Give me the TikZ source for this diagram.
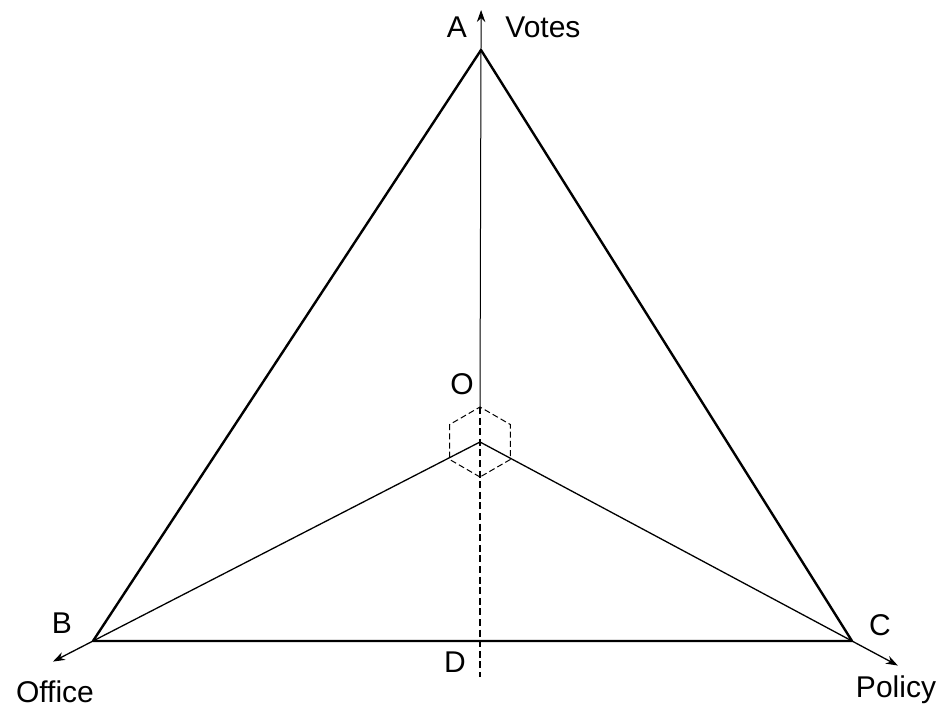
\documentclass[tikz,border=0pt]{standalone}
\usepackage{fontspec}
\setmainfont{Liberation Sans}
\usetikzlibrary{arrows.meta,calc}
\tikzset{
  >={Stealth[length=6pt,width=4.2pt]},
  side/.style={draw=black, line width=1.2pt},
  spoke/.style={draw=black, line width=.65pt},
  axisline/.style={draw=black, line width=.5pt},
  hexline/.style={draw=black, line width=.5pt, dash pattern=on 3pt off 1.6pt},
  lbl/.style={font=\fontsize{15}{17}\selectfont, inner sep=0pt}
}
\begin{document}
\begin{tikzpicture}[x=0.5pt,y=-0.5pt]
\useasboundingbox (0,0) rectangle (943,707);

% Corners of the triangle, its centre and the foot of the axis.
\coordinate (A) at (481,50);
\coordinate (B) at (93,641);
\coordinate (C) at (852,641);
\coordinate (O) at (480,442);
\coordinate (D) at (480,641);
\coordinate (Dend) at (480,677);
\coordinate (H) at ($(O)+(0,-35)$);

% Triangle.
\draw[side, line join=round] (A) -- (B) -- (C) -- cycle;

% Spokes from the centre, running out past B and C.
\draw[spoke] (O) -- (B);
\draw[spoke] (O) -- (C);
\draw[spoke, ->] (B) -- ($(B)!-22.5pt!(O)$);
\draw[spoke, ->] (C) -- ($(C)!-26pt!(O)$);

% Vertical axis: solid above the hexagon, dashed below it.
\draw[axisline, ->] (H) -- ($(A)!-20pt!(O)$);
\draw[axisline, line width=.65pt, dash pattern=on 3.5pt off 1.8pt] (H) -- (Dend);

% Dashed hexagon round O.
\draw[hexline] (O) ++(90:35) \foreach \a in {150,210,270,330,30} { -- ($(O)+(\a:35)$) } -- cycle;

% Labels.
\node[lbl] (labA) at (457,27) {A};
\node[lbl, anchor=west] (votes) at (505,27) {Votes};
\node[lbl] (labB) at (62,623) {B};
\node[lbl] (labC) at (880,625) {C};
\node[lbl] (labO) at (462,384) {O};
\node[lbl] (labD) at (455,662) {D};
\node[lbl] (office) at (55,692) {Office};
\node[lbl] (policy) at (896,690) {Policy};

\end{tikzpicture}
\end{document}
